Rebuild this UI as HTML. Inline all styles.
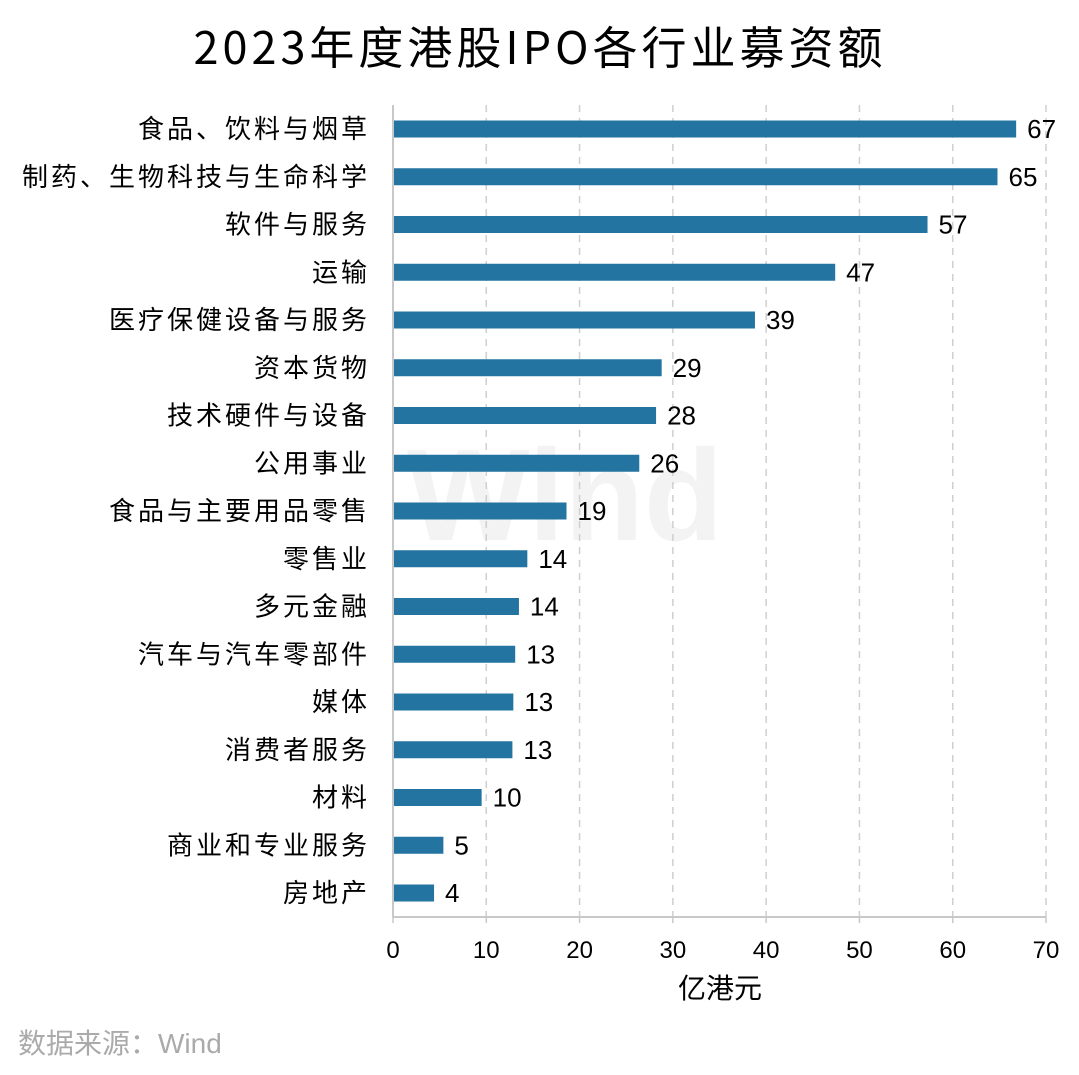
<!DOCTYPE html>
<html><head><meta charset="utf-8"><style>
body{margin:0;background:#fff;}
svg text{font-family:"Liberation Sans","Noto Sans CJK SC",sans-serif;}
</style></head><body>
<svg id="chart" width="1079" height="1070" xmlns="http://www.w3.org/2000/svg">
<rect width="1079" height="1070" fill="#fff"/>
<text x="540" y="64" text-anchor="middle" font-size="45" letter-spacing="4" style="font-family:'Noto Sans CJK SC',sans-serif" fill="#000">2023年度港股IPO各行业募资额</text>
<text x="565" y="540" text-anchor="middle" font-size="130" font-weight="bold" fill="#f3f3f3">Wind</text>
<g id="grid"></g><g id="bars"></g><g id="axis"></g>
<text x="720" y="998" text-anchor="middle" font-size="28" fill="#000">亿港元</text>
<text x="18" y="1053" font-size="28" fill="#aaa">数据来源：Wind</text>
</svg>
<script>
const categories=["食品、饮料与烟草","制药、生物科技与生命科学","软件与服务","运输","医疗保健设备与服务","资本货物","技术硬件与设备","公用事业","食品与主要用品零售","零售业","多元金融","汽车与汽车零部件","媒体","消费者服务","材料","商业和专业服务","房地产"];
const values=[66.8,64.8,57.3,47.4,38.8,28.8,28.2,26.4,18.6,14.4,13.5,13.1,12.9,12.8,9.5,5.4,4.4];
const ticks=[0,10,20,30,40,50,60,70];
const NS="http://www.w3.org/2000/svg";
const x0=393,x1=1046,xmax=70,yTop=105,yBot=917,y0=129,step=47.75,bh=17;
const xs=v=>x0+(x1-x0)*v/xmax;
const ys=i=>y0+i*step;
function mk(tag,attrs,parent,txt){const e=document.createElementNS(NS,tag);for(const k in attrs)e.setAttribute(k,attrs[k]);if(txt!==undefined)e.textContent=txt;parent.appendChild(e);return e;}
const grid=document.getElementById('grid'),bars=document.getElementById('bars'),axis=document.getElementById('axis');
ticks.forEach(t=>{
  if(t>0){const g=mk('line',{x1:xs(t),x2:xs(t),y1:yTop,y2:yBot,stroke:'#cfcfcf','stroke-width':1.5,'stroke-dasharray':'7,6'},grid);
  
  }
  const tk=mk('line',{x1:xs(t),x2:xs(t),y1:yBot,y2:yBot+6,stroke:'#c8c8c8','stroke-width':1.5},axis);
  
  
  const tl=mk('text',{x:xs(t),y:958,'text-anchor':'middle','font-size':24,fill:'#000'},axis,String(t));
  
  
});
const ax=mk('line',{x1:x0,x2:x1,y1:yBot,y2:yBot,stroke:'#c8c8c8','stroke-width':2},axis);


const ay=mk('line',{x1:x0,x2:x0,y1:yTop,y2:yBot,stroke:'#c8c8c8','stroke-width':2},axis);


categories.forEach((c,i)=>{
  const y=ys(i);
  const cl=mk('text',{x:370,y:y+9,'text-anchor':'end','font-size':26,'letter-spacing':3,fill:'#000'},bars,c);
  
  
  const b=mk('rect',{x:x0+1,y:y-bh/2,width:xs(values[i])-x0-1,height:bh,fill:'#2374a0'},bars);
  
  
  const vl=mk('text',{x:xs(values[i])+11,y:y+9,'font-size':26,fill:'#000'},bars,String(Math.round(values[i])));
  
  
});
</script>
</body></html>
